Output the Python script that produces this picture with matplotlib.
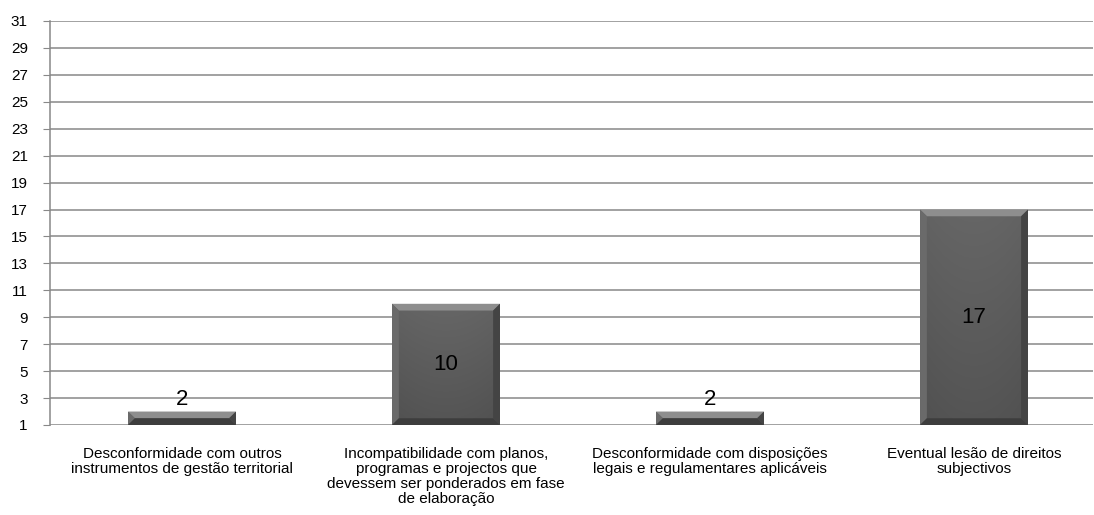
import numpy as np
import matplotlib
matplotlib.use('Agg')
import matplotlib.pyplot as plt
from matplotlib.patches import Polygon, Rectangle

categories = [
    'Desconformidade com outros\ninstrumentos de gestão territorial',
    'Incompatibilidade com planos,\nprogramas e projectos que\ndevessem ser ponderados em fase\nde elaboração',
    'Desconformidade com disposições\nlegais e regulamentares aplicáveis',
    'Eventual lesão de direitos\nsubjectivos',
]
values = [2, 10, 2, 17]
yticks = list(range(1, 32, 2))

plt.rcParams['font.family'] = ['Liberation Sans', 'DejaVu Sans']

fig = plt.figure(figsize=(10.94, 5.15), dpi=100)
ax = fig.add_axes([50 / 1094, 90 / 515, 1043 / 1094, 404 / 515])
base = 1
ax.set_ylim(1, 31)
ax.set_xlim(-0.5, -0.5 + 1043 / 264)
ax.set_yticks(yticks)
ax.yaxis.grid(True, color='#888888', lw=1.1)
ax.set_axisbelow(True)
for s in ['top', 'right', 'bottom']:
    ax.spines[s].set_visible(False)
ax.spines['left'].set_color('#888888')
ax.spines['left'].set_linewidth(1.1)
ax.tick_params(axis='y', length=5, color='#888888', labelsize=11, pad=11)
ax.tick_params(axis='x', length=0, labelsize=11, pad=16)
ax.set_xticks(range(len(values)))
ax.set_xticklabels(categories, linespacing=1.08, va='top')

# vertical gradient for the bar faces (top lighter, bottom darker)
ny = 100
shade = np.linspace(0.33, 0.40, ny).reshape(-1, 1)      # row 0 = bottom (origin lower)
xs = np.linspace(-1, 1, 40).reshape(1, -1)
face = shade - 0.015 * xs ** 2
rgb = np.dstack([face, face, face])

w = 0.409
dx, dy = 0.026, 0.5
for i, v in enumerate(values):
    x0, x1 = i - w / 2, i + w / 2
    # soft shadow under the bar
    ax.add_patch(Rectangle((x0 + 0.004, base - 0.22), w, 0.22, color='#cfcfcf', lw=0, zorder=2))
    bar = ax.bar(i, v - base, width=w, bottom=base, color='#5a5a5a', zorder=3)[0]
    im = ax.imshow(rgb, extent=[x0, x1, base, v], origin='lower', aspect='auto',
                   interpolation='bilinear', zorder=3.1)
    im.set_clip_path(bar)
    # bevel edges
    h = min(dy, (v - base) / 2)
    ax.add_patch(Polygon([[x0, v], [x1, v], [x1 - dx, v - h], [x0 + dx, v - h]],
                         closed=True, color='#8e8e8e', lw=0, zorder=3.2))
    ax.add_patch(Polygon([[x0, v], [x0 + dx, v - h], [x0 + dx, base + h], [x0, base]],
                         closed=True, color='#6a6a6a', lw=0, zorder=3.2))
    ax.add_patch(Polygon([[x1, v], [x1 - dx, v - h], [x1 - dx, base + h], [x1, base]],
                         closed=True, color='#444444', lw=0, zorder=3.2))
    ax.add_patch(Polygon([[x0, base], [x1, base], [x1 - dx, base + h], [x0 + dx, base + h]],
                         closed=True, color='#3d3d3d', lw=0, zorder=3.2))
    if v - base < 3:
        ty = v + 0.9
    else:
        ty = base + (v - base) / 2
    ax.text(i, ty, str(v), ha='center', va='center', fontsize=16, color='black', zorder=5)

fig.savefig('out.png', dpi=100)
